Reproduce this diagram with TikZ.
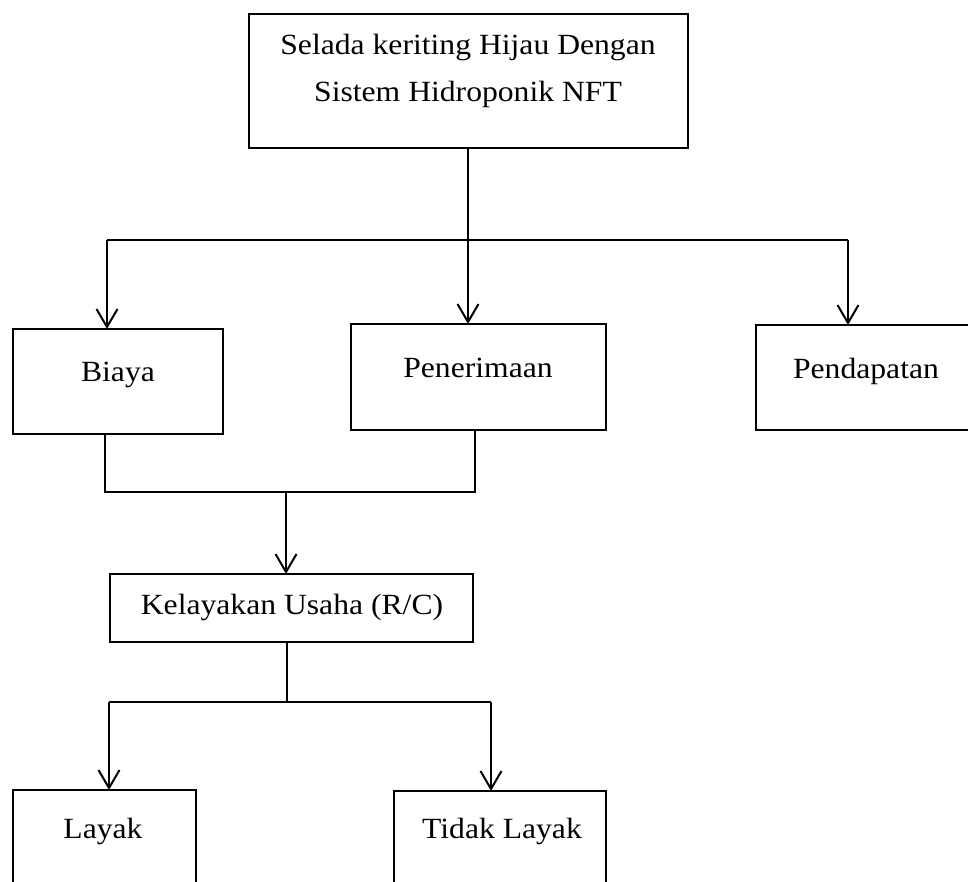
\documentclass[tikz,border=0pt]{standalone}
\usepackage{fontspec}
\setmainfont{Liberation Serif}
\usetikzlibrary{arrows.meta}
\newcommand{\stretchtxt}[1]{\scalebox{1.08}[1]{#1}}
\begin{document}
\begin{tikzpicture}[x=1pt,y=-1pt,
  box/.style={draw, line width=2.4pt, inner sep=0pt, outer sep=0pt},
  lbl/.style={anchor=base, inner sep=0pt, font=\fontsize{29.3}{36}\selectfont},
  thinline/.style={line width=1.2pt},
  arr/.style={line width=2pt, -{Straight Barb[length=18pt,width=21pt]}}]
\useasboundingbox (0,0) rectangle (968,882);
\clip (0,0) rectangle (968,882);
% boxes
\node[box, minimum width=439pt, minimum height=134pt] (top) at (468.5,81) {};
\node[box, minimum width=210pt, minimum height=105pt] (biaya) at (118,381.5) {};
\node[box, minimum width=255pt, minimum height=106pt] (pener) at (478.5,377) {};
\node[box, minimum width=224pt, minimum height=105pt] (penda) at (868,377.5) {};
\node[box, minimum width=363pt, minimum height=68pt] (kel) at (291.5,608) {};
\node[box, minimum width=183pt, minimum height=110pt] (layak) at (104.5,845) {};
\node[box, minimum width=212pt, minimum height=109pt] (tidak) at (500,845.5) {};
% texts
\node[lbl] (t1) at (468,55) {\stretchtxt{Selada keriting Hijau Dengan}};
\node[lbl] (t2) at (468,102) {\stretchtxt{Sistem Hidroponik NFT}};
\node[lbl] (tb) at (118,381) {\stretchtxt{Biaya}};
\node[lbl] (tp) at (478,377) {\stretchtxt{Penerimaan}};
\node[lbl] (td) at (866,378) {\stretchtxt{Pendapatan}};
\node[lbl] (tk) at (292,614) {\stretchtxt{Kelayakan Usaha (R/C)}};
\node[lbl] (tl) at (103,838) {\stretchtxt{Layak}};
\node[lbl] (tt) at (502,838) {\stretchtxt{Tidak Layak}};
% junctions
\coordinate (j1) at (468,240);
\coordinate (jl) at (107,240);
\coordinate (jr) at (848,240);
\coordinate (b1) at (105,492);
\coordinate (b2) at (475,492);
\coordinate (bm) at (286,492);
\coordinate (k1) at (287,702);
\coordinate (kl) at (109,702);
\coordinate (kr) at (491,702);
% connectors
\draw[thinline] (j1 |- top.south) -- (j1);
\draw[thinline] (jl) -- (jr);
\draw[arr] (jl) -- (jl |- biaya.north);
\draw[arr] (j1) -- (j1 |- pener.north);
\draw[arr] (jr) -- (jr |- penda.north);
\draw[thinline] (b1 |- biaya.south) -- (b1) -- (b2) -- (b2 |- pener.south);
\draw[arr] (bm) -- (bm |- kel.north);
\draw[thinline] (k1 |- kel.south) -- (k1);
\draw[thinline] (kl) -- (kr);
\draw[arr] (kl) -- (kl |- layak.north);
\draw[arr] (kr) -- (kr |- tidak.north);
\end{tikzpicture}
\end{document}
